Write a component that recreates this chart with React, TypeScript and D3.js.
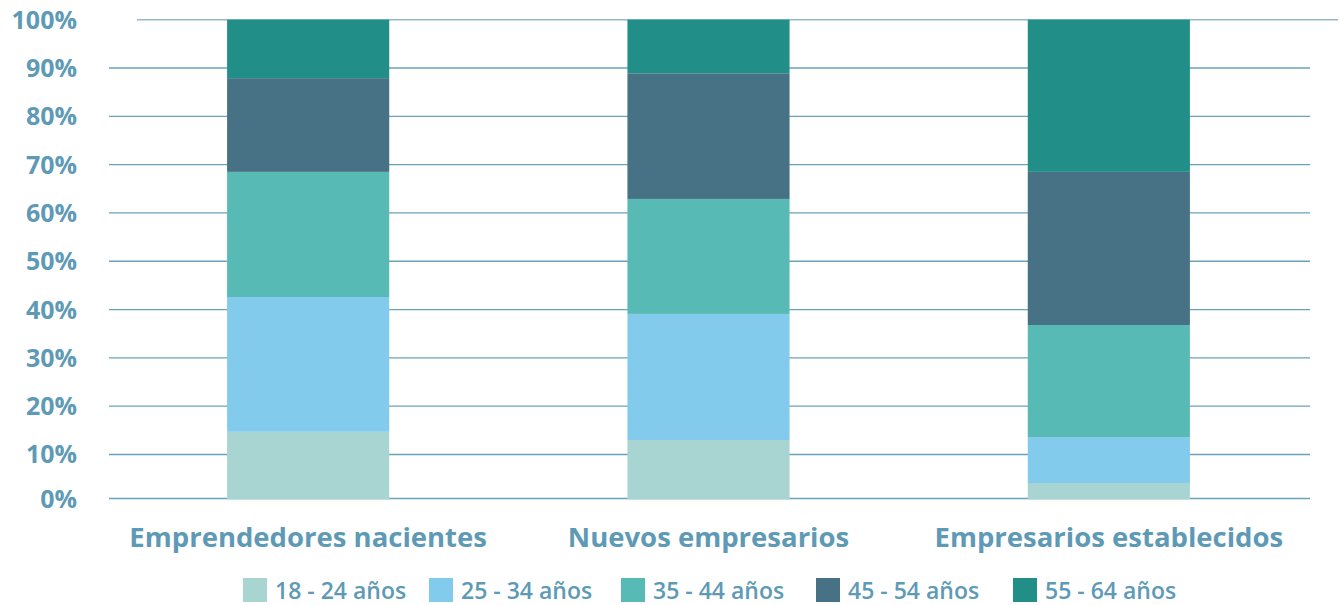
import React from "react";
import * as d3 from "d3";

const categories = ["Emprendedores nacientes", "Nuevos empresarios", "Empresarios establecidos"];
const seriesNames = ["18 - 24 años", "25 - 34 años", "35 - 44 años", "45 - 54 años", "55 - 64 años"];
const colors = ["#a8d5d2", "#82cbec", "#58bab4", "#477184", "#218f87"];
const s18_24 = [14.7, 13.0, 4.1];
const s25_34 = [27.9, 26.1, 9.5];
const s35_44 = [25.9, 23.8, 23.2];
const s45_54 = [19.4, 26.0, 31.7];
const s55_64 = [12.1, 11.1, 31.5];
const yTicks = [0, 10, 20, 30, 40, 50, 60, 70, 80, 90, 100];

const W = 1340, H = 605;
const TEXT = "#5e9ab6";
const GRID = "#6aa2bc";
const FONT = "'Open Sans', 'Noto Sans', sans-serif";

export default function App() {
  const series = [s18_24, s25_34, s35_44, s45_54, s55_64];
  const table = categories.map((c, i) => {
    const row: any = { cat: c };
    seriesNames.forEach((s, k) => (row[s] = series[k][i]));
    return row;
  });
  const stacked = d3.stack().keys(seriesNames)(table);

  const x = d3.scaleBand<string>().domain(categories).range([108, 1309]).paddingInner(0.595).paddingOuter(0.2975);
  const y = d3.scaleLinear().domain([0, 100]).range([502.8, 19.7]);
  const baseline = 499.5;

  const legendX = [243, 429, 621, 816, 1013];

  return (
    <div style={{ position: "absolute", left: 0, top: 0 }}>
      <svg width={W} height={H} style={{ display: "block" }}>
        <defs>
          <clipPath id="plotclip">
            <rect x={0} y={0} width={W} height={baseline} />
          </clipPath>
        </defs>
        {yTicks.filter((t) => t < 100).map((t) => {
          const yy = Math.min(y(t), baseline - 1);
          return <line key={t} x1={109} x2={1310} y1={yy} y2={yy} stroke={GRID} strokeWidth={1.3} />;
        })}
        <line x1={137} x2={1338} y1={y(100)} y2={y(100)} stroke="#93b8c8" strokeWidth={1.5} />
        <g clipPath="url(#plotclip)">
          {stacked.map((layer, k) => (
            <g key={k} fill={colors[k]}>
              {layer.map((d, i) => (
                <rect key={i} x={x(categories[i])} width={x.bandwidth()} y={y(d[1])} height={y(d[0]) - y(d[1])} />
              ))}
            </g>
          ))}
        </g>
        {yTicks.map((t) => (
          <text key={t} x={77} y={Math.min(y(t), baseline - 1)} dy="0.36em" textAnchor="end" fill={TEXT}
            fontFamily={FONT} fontWeight={700} fontSize={25}>{t}%</text>
        ))}
        {categories.map((c) => (
          <text key={c} x={(x(c) as number) + x.bandwidth() / 2} y={547} textAnchor="middle" fill={TEXT}
            fontFamily={FONT} fontWeight={700} fontSize={27.5}>{c}</text>
        ))}
        {seriesNames.map((s, k) => (
          <g key={s} transform={`translate(${legendX[k]},578)`}>
            <rect width={24} height={24} fill={colors[k]} />
            <text x={32} y={21} fill={TEXT} fontFamily={FONT} fontWeight={600} fontSize={23}>{s}</text>
          </g>
        ))}
      </svg>
    </div>
  );
}
